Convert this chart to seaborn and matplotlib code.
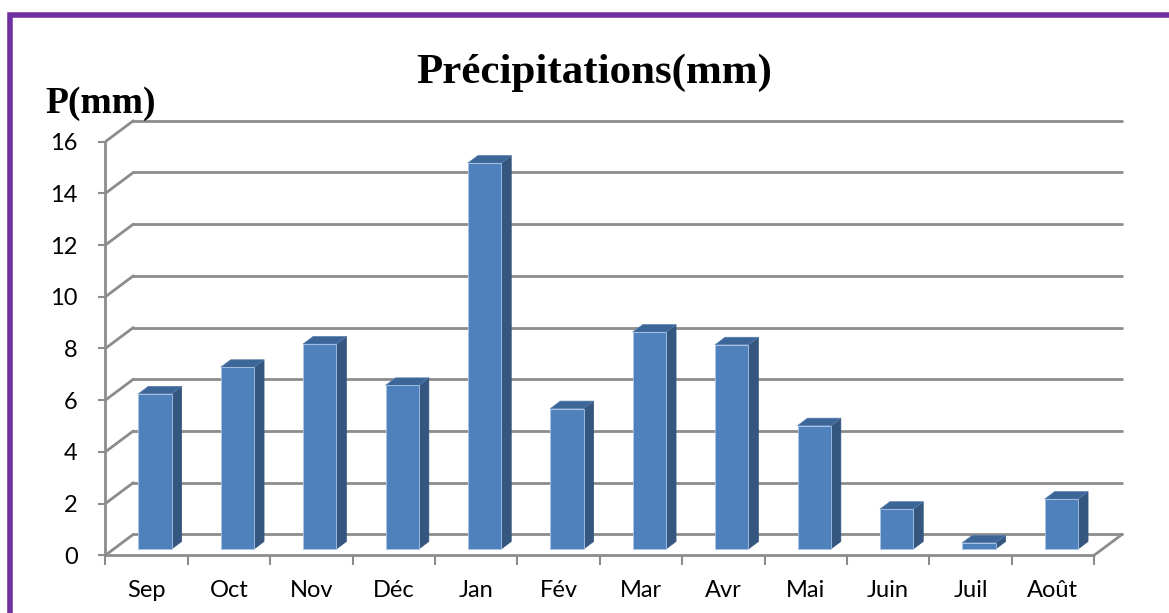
import matplotlib
matplotlib.use("Agg")
import matplotlib.pyplot as plt
import matplotlib.patches as mpatches
import seaborn as sns

months = ["Sep", "Oct", "Nov", "Déc", "Jan", "Fév", "Mar", "Avr", "Mai", "Juin", "Juil", "Août"]
precip = [6.0, 7.03, 7.93, 6.33, 14.93, 5.43, 8.39, 7.9, 4.77, 1.54, 0.24, 1.93]
yticks = [0, 2, 4, 6, 8, 10, 12, 14, 16]

# 3d-look geometry (data units)
WALL_DX, WALL_DY = 0.34, 0.81     # depth of back wall
BAR_DX, BAR_DY = 0.103, 0.245     # bar front face offset
SIDE_DX, SIDE_DY = 0.121, 0.29    # bar depth
BAR_W = 0.405

FRONT = "#4F81BD"
SIDE = "#34567F"
TOP = "#3C6598"
GRID = "#8C8C8C"

sns.set_theme(style="white")
plt.rcParams["font.family"] = ["Lato", "DejaVu Sans"]
plt.rcParams["text.color"] = "black"
plt.rcParams["xtick.color"] = "black"
plt.rcParams["ytick.color"] = "black"

W, H = 1169, 613
fig = plt.figure(figsize=(W / 100, H / 100), dpi=100)

# axes placed so x=-0.5 at px 105.3 and y=0 at px 555.3
px_x, px_y = 82.4, 25.85
left_px, right_px = 105.3, 1140
bot_px, top_px = 555.3, 110
ax = fig.add_axes([left_px / W, (H - bot_px) / H,
                   (right_px - left_px) / W, (bot_px - top_px) / H])

n = len(months)
x_end = n - 0.5

# back wall gridlines + left wall diagonals
for t in yticks:
    ax.plot([-0.5, -0.5 + WALL_DX], [t, t + WALL_DY], color=GRID, lw=2, zorder=1)
    ax.plot([-0.5 + WALL_DX, x_end + WALL_DX], [t + WALL_DY, t + WALL_DY],
            color=GRID, lw=2, zorder=1)
# floor right edge and front edge
ax.plot([x_end, x_end + WALL_DX], [0, WALL_DY], color=GRID, lw=2, zorder=1)
ax.plot([-0.5, x_end], [0, 0], color=GRID, lw=2, zorder=1, clip_on=False)

sns.barplot(x=months, y=precip, color=FRONT, width=BAR_W, saturation=1,
            edgecolor="#A9C4E6", linewidth=0.6, ax=ax, zorder=3)

for p in ax.patches:
    p.set_x(p.get_x() + BAR_DX)
    p.set_y(BAR_DY)
    x0, w, h = p.get_x(), p.get_width(), p.get_height()
    y0 = BAR_DY
    side = [(x0 + w, y0), (x0 + w + SIDE_DX, y0 + SIDE_DY),
            (x0 + w + SIDE_DX, y0 + h + SIDE_DY), (x0 + w, y0 + h)]
    top = [(x0, y0 + h), (x0 + SIDE_DX, y0 + h + SIDE_DY),
           (x0 + w + SIDE_DX, y0 + h + SIDE_DY), (x0 + w, y0 + h)]
    ax.add_patch(mpatches.Polygon(side, closed=True, fc=SIDE, ec=SIDE, lw=0.5, zorder=2))
    ax.add_patch(mpatches.Polygon(top, closed=True, fc=TOP, ec="#5A80B0", lw=0.5, zorder=2))

ax.set_xlim(-0.5, -0.5 + (right_px - left_px) / px_x)
ax.set_ylim(0, (bot_px - top_px) / px_y)

for s in ["top", "right", "bottom"]:
    ax.spines[s].set_visible(False)
ax.spines["left"].set_color(GRID)
ax.spines["left"].set_linewidth(2)
ax.spines["left"].set_bounds(0, 16)

ax.set_yticks(yticks)
ax.set_yticklabels([str(t) for t in yticks], fontsize=17)
ax.tick_params(axis="y", length=5, width=1.5, color=GRID, pad=15, left=True)

ax.set_xticks(range(n))
ax.set_xticklabels(months, fontsize=17)
ax.set_xticks([i - 0.5 for i in range(n + 1)], minor=True)
ax.tick_params(axis="x", which="major", length=0, pad=18)
ax.tick_params(axis="x", which="minor", length=7, width=1.5, color=GRID, bottom=True)
ax.set_xlabel("")
ax.set_ylabel("")

fig.text(594 / W, 1 - 83 / H, "Précipitations(mm)", ha="center", va="baseline",
         fontsize=31, fontweight="bold", family="Liberation Serif", color="black")
fig.text(45 / W, 1 - 113 / H, "P(mm)", ha="left", va="baseline",
         fontsize=27, fontweight="bold", family="Liberation Serif", color="black")

# purple frame (runs off the right and bottom edges)
fig.patches.append(mpatches.Rectangle((9.5 / W, -0.2), 1.2, 1.2 - 14.5 / H,
                                      transform=fig.transFigure, fill=False,
                                      ec="#7030A0", lw=4))

fig.savefig("out.png", dpi=100)
